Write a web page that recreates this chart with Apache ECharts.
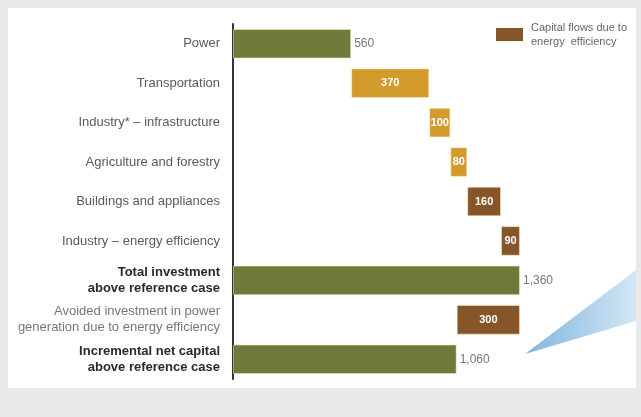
<!DOCTYPE html>
<html>
<head>
<meta charset="utf-8">
<script src="https://cdn.jsdelivr.net/npm/echarts@6/dist/echarts.min.js"></script>
<style>
  html, body { margin: 0; padding: 0; background: #e9e9e9; }
  #chart { width: 641px; height: 417px; }
</style>
</head>
<body>
<div id="chart"></div>
<script>
// Capital investment above reference case, step by step
const categories = [
  'Power',
  'Transportation',
  'Industry* \u2013 infrastructure',
  'Agriculture and forestry',
  'Buildings and appliances',
  'Industry \u2013 energy efficiency',
  'Total investment\nabove reference case',
  'Avoided investment in power\ngeneration due to energy efficiency',
  'Incremental net capital\nabove reference case'
];
const values = [560, 370, 100, 80, 160, 90, 1360, 300, 1060];
const valueLabels = ['560', '370', '100', '80', '160', '90', '1,360', '300', '1,060'];
// kind: 'total' bars start at zero, 'step' adds on, 'minus' takes away
const kinds = ['total', 'step', 'step', 'step', 'step', 'step', 'total', 'minus', 'total'];
const flowType = ['main', 'infra', 'infra', 'infra', 'eff', 'eff', 'main', 'eff', 'main'];
const boldRows = [6, 8];
const legendText = 'Capital flows due to\nenergy  efficiency';

const colors = { main: '#6f7a3a', infra: '#d39a2c', eff: '#86552a' };
const FONT = '"Liberation Sans", Arial, sans-serif';

// invisible offsets for the floating bars
const offsets = [];
let running = 0;
kinds.forEach((k, i) => {
  if (k === 'total') { offsets.push(0); running = values[i]; }
  else if (k === 'step') { offsets.push(running); running += values[i]; }
  else { running -= values[i]; offsets.push(running); }
});

const chart = echarts.init(document.getElementById('chart'), null, { renderer: 'canvas' });

const barData = values.map((v, i) => {
  const inside = flowType[i] !== 'main';
  return {
    value: v,
    itemStyle: { color: colors[flowType[i]], borderColor: 'rgba(255,235,190,0.55)', borderWidth: 1 },
    label: inside ? {
      show: true, position: 'inside', color: '#fff', fontWeight: 'bold', fontSize: 11, fontFamily: FONT,
      formatter: () => valueLabels[i]
    } : {
      show: true, position: 'right', distance: 3, color: '#777', fontSize: 12, fontFamily: FONT,
      formatter: () => valueLabels[i]
    }
  };
});

chart.setOption({
  backgroundColor: '#e9e9e9',
  animation: false,
  graphic: [
    { type: 'rect', z: -10, shape: { x: 8, y: 8, width: 628, height: 380 }, style: { fill: '#ffffff' } },
    {
      type: 'polygon', z: -5,
      shape: { points: [[525, 354], [636, 270], [636, 321]] },
      style: {
        fill: new echarts.graphic.LinearGradient(0, 0, 1, 0, [
          { offset: 0, color: '#7fb6de' },
          { offset: 1, color: '#d3e6f4' }
        ])
      }
    },
    { type: 'rect', shape: { x: 496, y: 28, width: 27, height: 13 }, style: { fill: colors.eff } },
    {
      type: 'text', x: 531, y: 21,
      style: { text: legendText, fill: '#666', font: '11px ' + FONT, lineHeight: 14 }
    }
  ],
  grid: { left: 233, right: 121, top: 24, bottom: 38, containLabel: false },
  xAxis: {
    type: 'value', min: 0, max: 1360, show: false
  },
  yAxis: {
    type: 'category', data: categories, inverse: true,
    axisLine: { show: true, lineStyle: { color: '#333', width: 2 } },
    axisTick: { show: false },
    axisLabel: {
      margin: 13, fontSize: 13, color: '#5a5a5a', lineHeight: 16,
      fontFamily: FONT,
      formatter: (val, idx) => {
        if (boldRows.includes(idx)) return '{b|' + val.split('\n').join('}\n{b|') + '}';
        if (idx === 7) return '{l|' + val.split('\n').join('}\n{l|') + '}';
        return val;
      },
      rich: {
        b: { fontWeight: 'bold', color: '#2a2a2a', fontSize: 13, lineHeight: 16, align: 'right', fontFamily: FONT },
        l: { color: '#777', fontSize: 13, lineHeight: 16, align: 'right', fontFamily: FONT }
      }
    }
  },
  series: [
    {
      type: 'bar', stack: 'w', data: offsets, barWidth: '75%',
      itemStyle: { color: 'transparent' }, silent: true
    },
    {
      type: 'bar', stack: 'w', data: barData, barWidth: '75%'
    }
  ]
});
</script>
</body>
</html>
